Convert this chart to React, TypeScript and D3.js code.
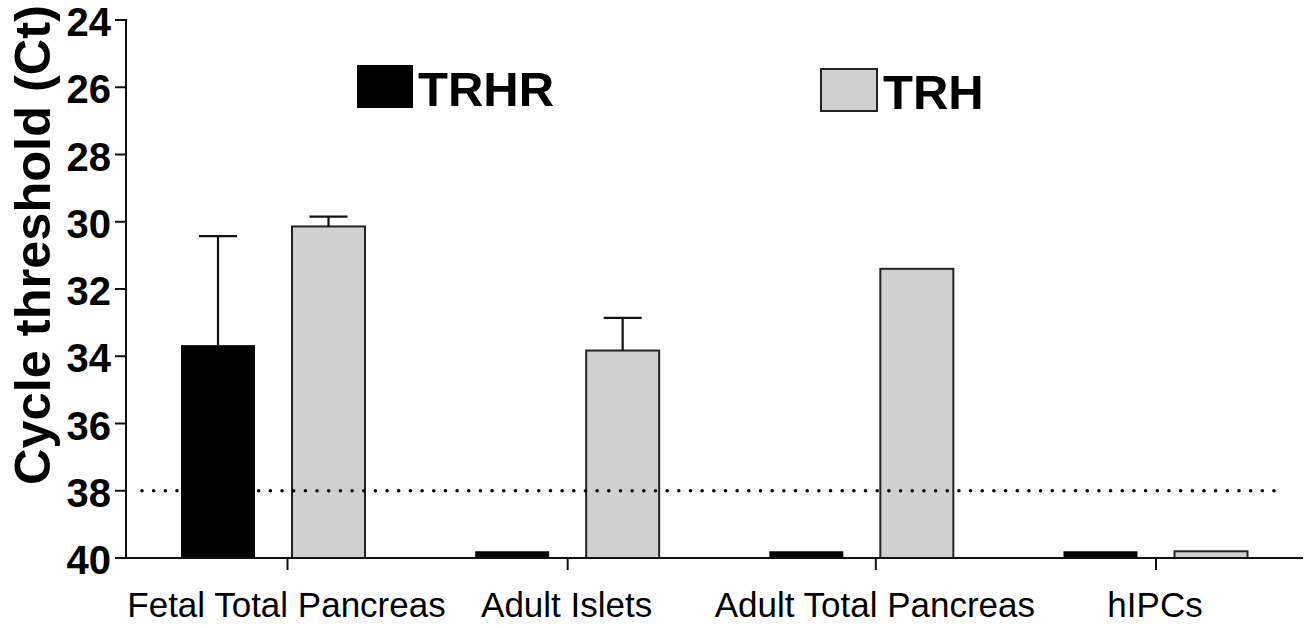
import React from 'react';
import * as d3 from 'd3';

// data (Ct values, lower = more expression)
const categories = ['Fetal Total Pancreas', 'Adult Islets', 'Adult Total Pancreas', 'hIPCs'];
const trhrValues = [33.67, 39.8, 39.8, 39.8];
const trhrErrors = [3.24, 0, 0, 0];
const trhValues = [30.14, 33.83, 31.4, 39.8];
const trhErrors = [0.29, 0.97, 0, 0];
const yTicks = [24, 26, 28, 30, 32, 34, 36, 38, 40];
const cutoff = 38;

const W = 1311;
const H = 628;
const font = '"Liberation Sans", Arial, sans-serif';
const gray = '#d0d0d0';

// labels of the long categories sit a bit right of the group centre
const labelNudge = [14, 0, 14, 0];

const App = () => {
  const y = d3.scaleLinear().domain([24, 40]).range([20, 558]);
  const x = d3.scalePoint<string>().domain(categories).range([273.5, 1156]);
  const axisX = 126;
  const axisEnd = 1303;
  const barW = 74;
  const gap = 18.5;
  const base = y(40);

  const errorBar = (cx: number, v: number, e: number, key: string) => {
    if (!e) return null;
    const top = y(v - e);
    return (
      <g key={key} stroke="#111" strokeWidth={2.2}>
        <line x1={cx} x2={cx} y1={y(v)} y2={top} />
        <line x1={cx - 19} x2={cx + 19} y1={top} y2={top} />
      </g>
    );
  };

  return (
    <svg width={W} height={H} style={{ display: 'block', position: 'absolute', left: 0, top: 0 }}>
      <rect width={W} height={H} fill="#fff" />

      {/* bars */}
      {categories.map((c, i) => {
        const cx = x(c)!;
        const bx = cx - gap - barW;
        const gx = cx + gap;
        return (
          <g key={c}>
            <rect x={bx} y={y(trhrValues[i])} width={barW} height={base - y(trhrValues[i])} fill="#000" />
            <rect
              x={gx}
              y={y(trhValues[i])}
              width={barW - 1}
              height={base - y(trhValues[i])}
              fill={gray}
              stroke="#222"
              strokeWidth={2}
            />
            {errorBar(bx + barW / 2, trhrValues[i], trhrErrors[i], 'e1')}
            {errorBar(gx + (barW - 1) / 2, trhValues[i], trhErrors[i], 'e2')}
          </g>
        );
      })}

      {/* detection cutoff */}
      <line
        x1={142}
        x2={1284}
        y1={y(cutoff)}
        y2={y(cutoff)}
        stroke="#000"
        strokeWidth={3.6}
        strokeLinecap="round"
        strokeDasharray="0 11.67"
      />

      {/* y axis */}
      <line x1={axisX} x2={axisX} y1={y(24) - 1} y2={base + 1} stroke="#111" strokeWidth={2} />
      {yTicks.map(t => (
        <g key={t}>
          <line x1={axisX - 11} x2={axisX} y1={y(t)} y2={y(t)} stroke="#111" strokeWidth={2} />
          <text
            x={111}
            y={y(t)}
            dy="0.4em"
            textAnchor="end"
            fontFamily={font}
            fontWeight="bold"
            fontSize={40}
          >
            {t}
          </text>
        </g>
      ))}
      <text
        transform="translate(50,245) rotate(-90)"
        textAnchor="middle"
        fontFamily={font}
        fontWeight="bold"
        fontSize={50}
        textLength={480}
        lengthAdjust="spacingAndGlyphs"
      >
        Cycle threshold (Ct)
      </text>

      {/* x axis */}
      <line x1={axisX} x2={axisEnd} y1={base} y2={base} stroke="#111" strokeWidth={2} />
      {categories.map((c, i) => {
        const lx = x(c)! + labelNudge[i];
        return (
          <g key={c}>
            <line x1={lx} x2={lx} y1={base} y2={base + 12} stroke="#111" strokeWidth={2} />
            <text x={lx - 1} y={617} textAnchor="middle" fontFamily={font} fontSize={35}>
              {c}
            </text>
          </g>
        );
      })}

      {/* legend */}
      <rect x={357} y={65} width={56} height={43} fill="#000" />
      <text x={418} y={106} fontFamily={font} fontWeight="bold" fontSize={49}>
        TRHR
      </text>
      <rect x={821} y={69} width={56} height={42} fill={gray} stroke="#222" strokeWidth={2} />
      <text x={883} y={109} fontFamily={font} fontWeight="bold" fontSize={49}>
        TRH
      </text>
    </svg>
  );
};

export default App;
